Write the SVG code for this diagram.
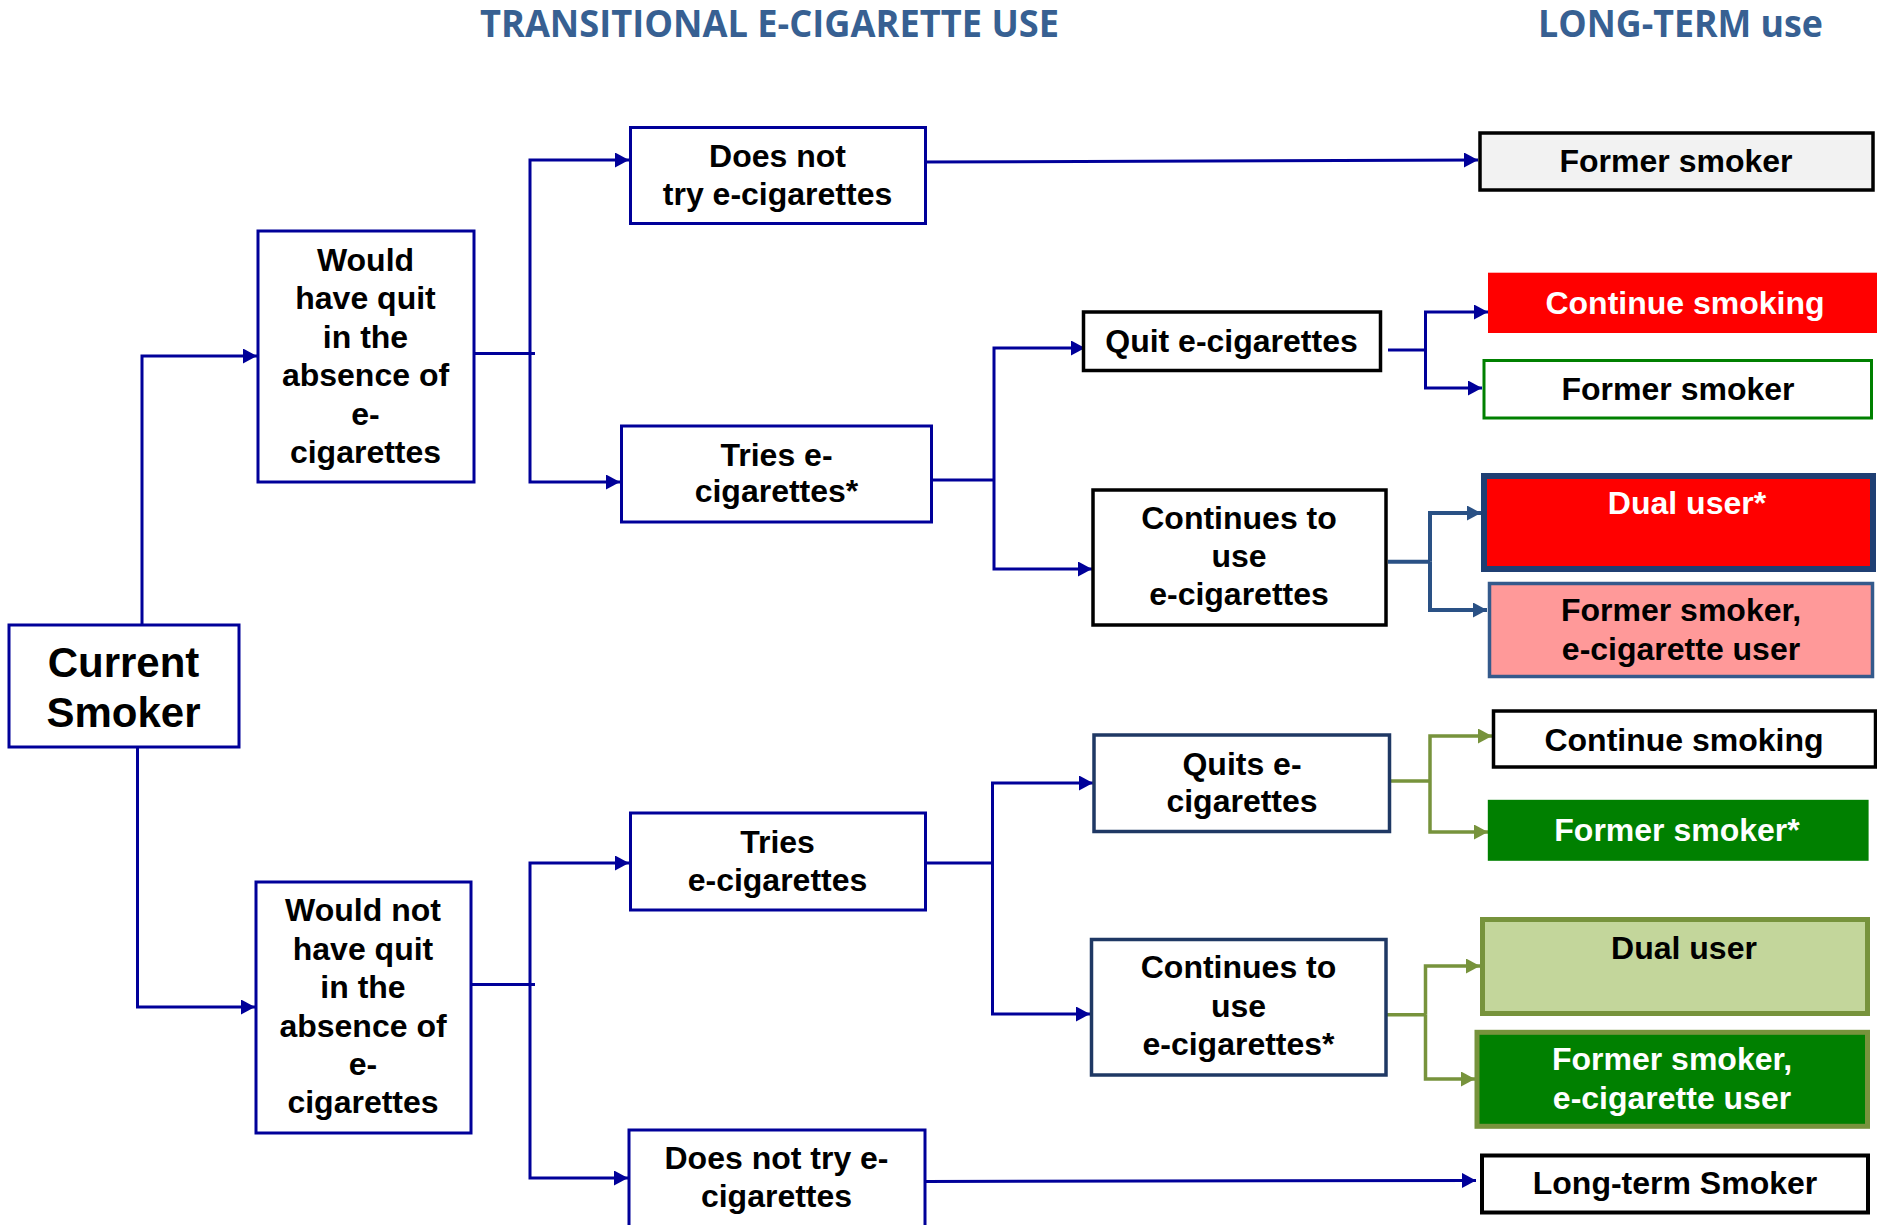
<svg xmlns="http://www.w3.org/2000/svg" width="1877" height="1225" viewBox="0 0 1877 1225">
<defs>
<style>
.t{font-family:"Liberation Sans",Arial,sans-serif;font-weight:bold;font-size:32px;text-anchor:middle;fill:#000}
.w{fill:#fff}
.big{font-size:42px}
.title{font-family:"Open Sans","Liberation Sans",sans-serif;font-weight:bold;font-size:37px;fill:#376092}
.nb{fill:#fff;stroke:#000099;stroke-width:3}
.kb{fill:#fff;stroke:#000;stroke-width:3.5}
.db{fill:#fff;stroke:#1f3864;stroke-width:3.5}
.c{fill:none;stroke:#000099;stroke-width:3}
.cb{fill:none;stroke:#2a5185;stroke-width:4}
.cg{fill:none;stroke:#77933c;stroke-width:3.5}
.an{marker-end:url(#mn)}
.ab{marker-end:url(#mb)}
.ag{marker-end:url(#mg)}
</style>
<marker id="mn" markerUnits="userSpaceOnUse" markerWidth="16" markerHeight="16" refX="14" refY="7.5" orient="auto"><path d="M0,0 L14,7.5 L0,15 z" fill="#000099"/></marker>
<marker id="mb" markerUnits="userSpaceOnUse" markerWidth="16" markerHeight="16" refX="14" refY="7.5" orient="auto"><path d="M0,0 L14,7.5 L0,15 z" fill="#2a5185"/></marker>
<marker id="mg" markerUnits="userSpaceOnUse" markerWidth="16" markerHeight="16" refX="14" refY="7.5" orient="auto"><path d="M0,0 L14,7.5 L0,15 z" fill="#77933c"/></marker>
</defs>
<rect width="1877" height="1225" fill="#fff"/>

<g id="titles">
<text class="title" x="480" y="37" textLength="579" lengthAdjust="spacingAndGlyphs">TRANSITIONAL E-CIGARETTE USE</text>
<text class="title" x="1538" y="37" textLength="285" lengthAdjust="spacingAndGlyphs">LONG-TERM use</text>
</g>

<g id="connectors">
<path class="c an" d="M142,624 V356 H257"/>
<path class="c an" d="M137.5,747 V1007 H255"/>
<path class="c" d="M474,353.5 H535"/>
<path class="c an" d="M530,353.5 V160 H629"/>
<path class="c an" d="M530,353.5 V482 H620"/>
<path class="c an" d="M919,162 L1478,160"/>
<path class="c" d="M931,480 H994"/>
<path class="c an" d="M994,480 V348 H1085"/>
<path class="c an" d="M994,480 V569 H1092"/>
<path class="c" d="M1388,350 H1426"/>
<path class="c an" d="M1425.5,350 V312 H1488"/>
<path class="c an" d="M1425.5,350 V388 H1482"/>
<path class="cb" d="M1388,561.7 H1430"/>
<path class="cb ab" d="M1430,561.7 V513 H1481"/>
<path class="cb ab" d="M1430,561.7 V610 H1487"/>
<path class="c" d="M471,984.6 H535"/>
<path class="c an" d="M530,984.6 V863 H629"/>
<path class="c an" d="M530,984.6 V1178 H628"/>
<path class="c" d="M925,863 H993"/>
<path class="c an" d="M992.5,863 V783 H1093"/>
<path class="c an" d="M992.5,863 V1014 H1090"/>
<path class="c an" d="M925,1181.4 L1476,1180.4"/>
<path class="cg" d="M1390,781 H1430"/>
<path class="cg ag" d="M1430,781 V736 H1492"/>
<path class="cg ag" d="M1430,781 V832 H1488"/>
<path class="cg" d="M1386,1014.7 H1426"/>
<path class="cg ag" d="M1425.5,1014.7 V966 H1480"/>
<path class="cg ag" d="M1425.5,1014.7 V1079 H1475"/>
</g>

<g id="current-smoker">
<rect class="nb" x="9" y="625" width="230" height="122"/>
<text class="t big" x="123.5" y="677">Current</text>
<text class="t big" x="123.5" y="727">Smoker</text>
</g>

<g id="would-have-quit">
<rect class="nb" x="258" y="231" width="216" height="251"/>
<text class="t" x="365.5" y="270.5">Would</text>
<text class="t" x="365.5" y="309">have quit</text>
<text class="t" x="365.5" y="347.5">in the</text>
<text class="t" x="365.5" y="386">absence of</text>
<text class="t" x="365.5" y="424.5">e-</text>
<text class="t" x="365.5" y="463">cigarettes</text>
</g>

<g id="would-not-have-quit">
<rect class="nb" x="256" y="882" width="215" height="251"/>
<text class="t" x="363" y="921">Would not</text>
<text class="t" x="363" y="959.5">have quit</text>
<text class="t" x="363" y="998">in the</text>
<text class="t" x="363" y="1036.5">absence of</text>
<text class="t" x="363" y="1075">e-</text>
<text class="t" x="363" y="1113">cigarettes</text>
</g>

<g id="does-not-try-1">
<rect class="nb" x="630.5" y="127.5" width="295" height="96"/>
<text class="t" x="777.5" y="167">Does not</text>
<text class="t" x="777.5" y="205">try e-cigarettes</text>
</g>

<g id="tries-1">
<rect class="nb" x="621.5" y="426" width="310" height="96"/>
<text class="t" x="776.5" y="466">Tries e-</text>
<text class="t" x="776.5" y="502">cigarettes*</text>
</g>

<g id="tries-2">
<rect class="nb" x="630.5" y="813" width="295" height="97"/>
<text class="t" x="777.5" y="852.5">Tries</text>
<text class="t" x="777.5" y="891">e-cigarettes</text>
</g>

<g id="does-not-try-2">
<rect class="nb" x="629" y="1130" width="296" height="120"/>
<text class="t" x="776.5" y="1169">Does not try e-</text>
<text class="t" x="776.5" y="1207">cigarettes</text>
</g>

<g id="quit-ecig">
<rect class="kb" x="1083.5" y="312" width="297" height="58.5"/>
<text class="t" x="1231.5" y="352">Quit e-cigarettes</text>
</g>

<g id="continues-1">
<rect class="kb" x="1093" y="490" width="293" height="135"/>
<text class="t" x="1239" y="528.5">Continues to</text>
<text class="t" x="1239" y="567">use</text>
<text class="t" x="1239" y="605">e-cigarettes</text>
</g>

<g id="quits-ecig">
<rect class="db" x="1094" y="735" width="295.5" height="96.5"/>
<text class="t" x="1242" y="774.5">Quits e-</text>
<text class="t" x="1242" y="812">cigarettes</text>
</g>

<g id="continues-2">
<rect class="db" x="1091.5" y="939.5" width="294.5" height="135.5"/>
<text class="t" x="1238.5" y="978">Continues to</text>
<text class="t" x="1238.5" y="1016.5">use</text>
<text class="t" x="1238.5" y="1054.5">e-cigarettes*</text>
</g>

<g id="former-smoker-1">
<rect x="1480" y="133" width="393" height="57" fill="#f2f2f2" stroke="#000" stroke-width="3.5"/>
<text class="t" x="1676" y="172">Former smoker</text>
</g>

<g id="continue-smoking-1">
<rect x="1488" y="272.7" width="395" height="60.3" fill="#ff0000"/>
<text class="t w" x="1685" y="313.5">Continue smoking</text>
</g>

<g id="former-smoker-2">
<rect x="1484" y="360.5" width="387.5" height="57.5" fill="#fff" stroke="#008000" stroke-width="3"/>
<text class="t" x="1678" y="400">Former smoker</text>
</g>

<g id="dual-user-1">
<rect x="1484" y="476" width="389" height="93" fill="#ff0000" stroke="#1f3f73" stroke-width="6"/>
<text class="t w" x="1687" y="513.5">Dual user*</text>
</g>

<g id="former-ecig-1">
<rect x="1489.5" y="583.5" width="383" height="93" fill="#ff9999" stroke="#345a8c" stroke-width="3.5"/>
<text class="t" x="1681" y="621">Former smoker,</text>
<text class="t" x="1681" y="659.5">e-cigarette user</text>
</g>

<g id="continue-smoking-2">
<rect x="1493.5" y="711" width="382" height="56" fill="#fff" stroke="#000" stroke-width="3.5"/>
<text class="t" x="1684" y="750.5">Continue smoking</text>
</g>

<g id="former-smoker-3">
<rect x="1487.8" y="799.8" width="380.8" height="61" fill="#008000"/>
<text class="t w" x="1677" y="841">Former smoker*</text>
</g>

<g id="dual-user-2">
<rect x="1482.5" y="919.5" width="385" height="94" fill="#c3d69b" stroke="#77933c" stroke-width="5"/>
<text class="t" x="1684" y="958.5">Dual user</text>
</g>

<g id="former-ecig-2">
<rect x="1477" y="1032.3" width="390.5" height="94" fill="#008000" stroke="#77933c" stroke-width="5"/>
<text class="t w" x="1672" y="1070">Former smoker,</text>
<text class="t w" x="1672" y="1109">e-cigarette user</text>
</g>

<g id="long-term-smoker">
<rect x="1482" y="1155.5" width="386" height="57" fill="#fff" stroke="#000" stroke-width="4"/>
<text class="t" x="1675" y="1194">Long-term Smoker</text>
</g>
</svg>
